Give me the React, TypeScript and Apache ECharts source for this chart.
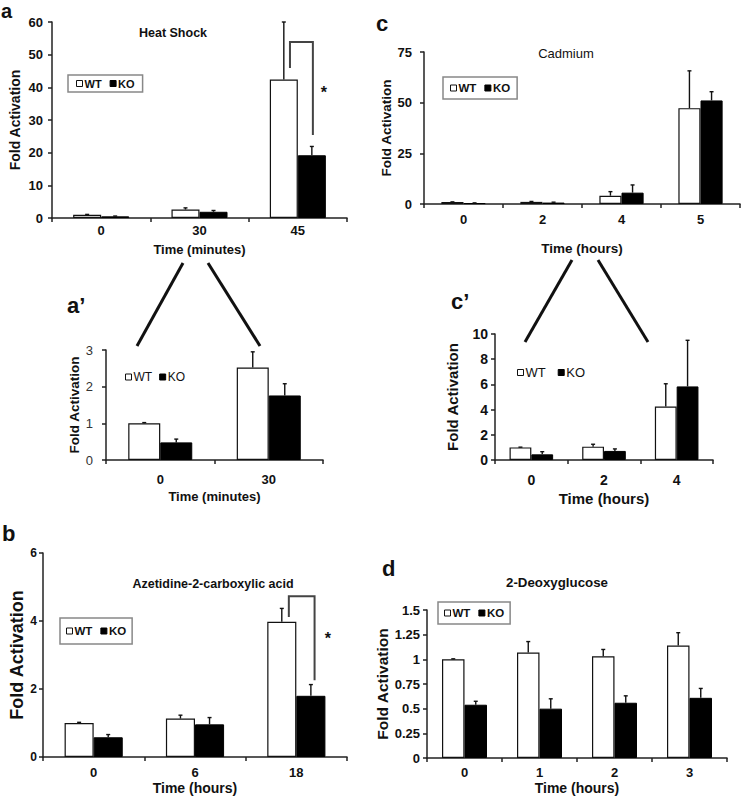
import React, { useEffect, useRef } from "react";
import * as echarts from "echarts";

const FONT = 'Arial, "Liberation Sans", Helvetica, sans-serif';

// Panel a: Heat Shock
const heatCats = ["0", "30", "45"];
const heatWT = [1.0, 2.6, 42.4];
const heatWTErr = [0.1, 0.5, 17.6];
const heatKO = [0.5, 1.9, 19.2];
const heatKOErr = [0.1, 0.4, 2.7];
const heatTicks = [0, 10, 20, 30, 40, 50, 60];

// Panel a': Heat Shock zoom
const heatZoomCats = ["0", "30"];
const heatZoomWT = [1.0, 2.52];
const heatZoomWTErr = [0.02, 0.43];
const heatZoomKO = [0.48, 1.76];
const heatZoomKOErr = [0.09, 0.32];
const heatZoomTicks = [0, 1, 2, 3];

// Panel c: Cadmium
const cdCats = ["0", "2", "4", "5"];
const cdWT = [1.0, 1.05, 4.1, 47.3];
const cdWTErr = [0.05, 0.2, 2.0, 18.4];
const cdKO = [0.45, 0.7, 5.6, 51.1];
const cdKOErr = [0.1, 0.2, 3.8, 4.3];
const cdTicks = [0, 25, 50, 75];

// Panel c': Cadmium zoom
const cdZoomCats = ["0", "2", "4"];
const cdZoomWT = [1.0, 1.06, 4.24];
const cdZoomWTErr = [0.02, 0.19, 1.81];
const cdZoomKO = [0.45, 0.72, 5.84];
const cdZoomKOErr = [0.21, 0.16, 3.66];
const cdZoomTicks = [0, 2, 4, 6, 8, 10];

// Panel b: Azetidine-2-carboxylic acid
const azcCats = ["0", "6", "18"];
const azcWT = [1.0, 1.13, 3.98];
const azcWTErr = [0.02, 0.1, 0.39];
const azcKO = [0.58, 0.96, 1.8];
const azcKOErr = [0.08, 0.2, 0.33];
const azcTicks = [0, 2, 4, 6];

// Panel d: 2-Deoxyglucose
const dgCats = ["0", "1", "2", "3"];
const dgWT = [1.0, 1.07, 1.03, 1.14];
const dgWTErr = [0.005, 0.11, 0.07, 0.13];
const dgKO = [0.54, 0.5, 0.56, 0.61];
const dgKOErr = [0.035, 0.1, 0.07, 0.095];
const dgTicks = [0, 0.25, 0.5, 0.75, 1, 1.25, 1.5];

// Significance brackets: [category, leftBottom, top, rightBottom, starY]
const heatBracket = [2, 45.9, 53.9, 25.4, 38.3];
const azcBracket = [2, 4.12, 4.73, 2.26, 3.5];

const panels = [
  {
    cats: heatCats, wt: heatWT, wtErr: heatWTErr, ko: heatKO, koErr: heatKOErr, ticks: heatTicks,
    grid: { left: 52, top: 22, width: 295, height: 196 }, bw: 0.285,
    xName: "Time (minutes)", xNameGap: 25, xLabelMargin: 6, xFont: 13, xNameFont: 13,
    yNameGap: 30, yNameFont: 14, yLabelMargin: 9, yFont: 13, yLabelWeight: "bold", yLabelColor: "#111",
    legend: { left: 68, top: 75, padding: [3, 8], border: true, font: 11, weight: "bold", gap: 8 },
  },
  {
    cats: cdCats, wt: cdWT, wtErr: cdWTErr, ko: cdKO, koErr: cdKOErr, ticks: cdTicks,
    grid: { left: 424, top: 52, width: 316, height: 152 }, bw: 0.28,
    xName: "Time (hours)", xNameGap: 37, xLabelMargin: 9, xFont: 13, xNameFont: 13.5,
    yNameGap: 23, yNameFont: 13.5, yLabelMargin: 12, yFont: 13, yLabelWeight: "bold", yLabelColor: "#111",
    legend: { left: 443, top: 77, padding: [5, 7], border: true, font: 11.5, weight: "bold", gap: 8 },
  },
  {
    cats: heatZoomCats, wt: heatZoomWT, wtErr: heatZoomWTErr, ko: heatZoomKO, koErr: heatZoomKOErr, ticks: heatZoomTicks,
    grid: { left: 106, top: 350, width: 217, height: 110 }, bw: 0.295,
    xName: "Time (minutes)", xNameGap: 30, xLabelMargin: 13, xFont: 13, xNameFont: 13,
    yNameGap: 21, yNameFont: 13.5, yLabelMargin: 13, yFont: 13, yLabelWeight: "normal", yLabelColor: "#333",
    legend: { left: 125, top: 371, padding: 0, border: false, font: 12, weight: "normal", gap: 7 },
  },
  {
    cats: cdZoomCats, wt: cdZoomWT, wtErr: cdZoomWTErr, ko: cdZoomKO, koErr: cdZoomKOErr, ticks: cdZoomTicks,
    grid: { left: 495, top: 334, width: 218, height: 126 }, bw: 0.3,
    xName: "Time (hours)", xNameGap: 31, xLabelMargin: 13, xFont: 14, xNameFont: 15,
    yNameGap: 35, yNameFont: 15, yLabelMargin: 7, yFont: 14, yLabelWeight: "bold", yLabelColor: "#111",
    legend: { left: 517, top: 366, padding: 0, border: false, font: 13, weight: "normal", gap: 12 },
  },
  {
    cats: azcCats, wt: azcWT, wtErr: azcWTErr, ko: azcKO, koErr: azcKOErr, ticks: azcTicks,
    grid: { left: 43, top: 553, width: 304, height: 204 }, bw: 0.287,
    xName: "Time (hours)", xNameGap: 24, xLabelMargin: 9, xFont: 13, xNameFont: 14,
    yNameGap: 12, yNameFont: 18, yLabelMargin: 6, yFont: 12, yLabelWeight: "bold", yLabelColor: "#111",
    legend: { left: 60, top: 618, padding: [7, 6], border: true, font: 11.5, weight: "bold", gap: 8 },
  },
  {
    cats: dgCats, wt: dgWT, wtErr: dgWTErr, ko: dgKO, koErr: dgKOErr, ticks: dgTicks,
    grid: { left: 427, top: 610, width: 300, height: 148 }, bw: 0.3,
    xName: "Time (hours)", xNameGap: 23, xLabelMargin: 8, xFont: 13, xNameFont: 14,
    yNameGap: 37, yNameFont: 15.5, yLabelMargin: 7, yFont: 13, yLabelWeight: "bold", yLabelColor: "#111",
    legend: { left: 438, top: 602, padding: [5, 6], border: true, font: 11.5, weight: "bold", gap: 8 },
  },
];

function errorSeries(idx: number, vals: number[], errs: number[], side: number, bw: number) {
  return {
    type: "custom",
    name: side < 0 ? "WT error" : "KO error",
    xAxisIndex: idx,
    yAxisIndex: idx,
    z: 5,
    silent: true,
    clip: false,
    data: vals.map((v, i) => [i, v, v + errs[i]]),
    encode: { x: 0, y: [1, 2] },
    renderItem: (params: any, api: any) => {
      const i = api.value(0);
      const band = api.size([1, 0])[0];
      const p0 = api.coord([i, api.value(1)]);
      const p1 = api.coord([i, api.value(2)]);
      const x = p0[0] + side * band * bw * 0.5;
      const st = { stroke: "#111", lineWidth: 1.4 };
      return {
        type: "group",
        children: [
          { type: "line", shape: { x1: x, y1: p0[1], x2: x, y2: p1[1] }, style: st },
          { type: "line", shape: { x1: x - 2, y1: p1[1], x2: x + 2, y2: p1[1] }, style: st },
        ],
      };
    },
  };
}

function bracketSeries(idx: number, b: number[], lo: number, ro: number, so: number) {
  return {
    type: "custom",
    name: "bracket",
    xAxisIndex: idx,
    yAxisIndex: idx,
    z: 6,
    silent: true,
    clip: false,
    data: [b],
    encode: { x: 0, y: [1, 2, 3, 4] },
    renderItem: (params: any, api: any) => {
      const cat = api.value(0);
      const band = api.size([1, 0])[0];
      const c = api.coord([cat, 0])[0];
      const yl = api.coord([cat, api.value(1)])[1];
      const yt = api.coord([cat, api.value(2)])[1];
      const yr = api.coord([cat, api.value(3)])[1];
      const ys = api.coord([cat, api.value(4)])[1];
      const xl = c + lo * band;
      const xr = c + ro * band;
      return {
        type: "group",
        children: [
          {
            type: "polyline",
            shape: { points: [[xl, yl], [xl, yt], [xr, yt], [xr, yr]] },
            style: { stroke: "#444", lineWidth: 2, fill: null },
          },
          {
            type: "text",
            x: c + so * band,
            y: ys,
            style: { text: "*", fontSize: 16, fontWeight: "bold", fontFamily: FONT, fill: "#111", align: "center", verticalAlign: "middle" },
          },
        ],
      };
    },
  };
}

function buildOption() {
  const grid: any[] = [];
  const xAxis: any[] = [];
  const yAxis: any[] = [];
  const series: any[] = [];
  const legend: any[] = [];
  const axisLine = { show: true, lineStyle: { color: "#222", width: 1.5 } };
  const axisTick = { show: true, length: 4, lineStyle: { color: "#222", width: 1.5 } };

  panels.forEach((p, i) => {
    grid.push({ ...p.grid, containLabel: false });
    xAxis.push({
      gridIndex: i,
      type: "category",
      data: p.cats,
      axisLine,
      axisTick: { ...axisTick, inside: false },
      axisLabel: { margin: p.xLabelMargin, fontSize: p.xFont, fontWeight: "bold", color: "#111", fontFamily: FONT },
      name: p.xName,
      nameLocation: "middle",
      nameGap: p.xNameGap,
      nameTextStyle: { fontSize: p.xNameFont, fontWeight: "bold", color: "#111", fontFamily: FONT },
    });
    const t = p.ticks;
    yAxis.push({
      gridIndex: i,
      type: "value",
      min: t[0],
      max: t[t.length - 1],
      interval: t[1] - t[0],
      splitLine: { show: false },
      axisLine,
      axisTick,
      axisLabel: { margin: p.yLabelMargin, fontSize: p.yFont, fontWeight: p.yLabelWeight, color: p.yLabelColor, fontFamily: FONT },
      name: "Fold Activation",
      nameLocation: "middle",
      nameRotate: 90,
      nameGap: p.yNameGap,
      nameTextStyle: { fontSize: p.yNameFont, fontWeight: "bold", color: "#111", fontFamily: FONT },
    });
    const bwPct = (p.bw * 100).toFixed(1) + "%";
    series.push({
      type: "bar",
      name: "WT",
      xAxisIndex: i,
      yAxisIndex: i,
      data: p.wt,
      barWidth: bwPct,
      barGap: "0%",
      itemStyle: { color: "#fff", borderColor: "#111", borderWidth: 1.2 },
      silent: true,
    });
    series.push({
      type: "bar",
      name: "KO",
      xAxisIndex: i,
      yAxisIndex: i,
      data: p.ko,
      barWidth: bwPct,
      barGap: "0%",
      itemStyle: { color: "#000", borderColor: "#000", borderWidth: 1 },
      silent: true,
    });
    series.push(errorSeries(i, p.wt, p.wtErr, -1, p.bw));
    series.push(errorSeries(i, p.ko, p.koErr, 1, p.bw));
    const L = p.legend;
    legend.push({
      left: L.left,
      top: L.top,
      orient: "horizontal",
      padding: L.padding,
      itemGap: L.gap,
      itemWidth: 6,
      itemHeight: 6,
      selectedMode: false,
      borderColor: L.border ? "#888" : "transparent",
      borderWidth: L.border ? 1.5 : 0,
      backgroundColor: L.border ? "#fff" : "transparent",
      textStyle: { fontSize: L.font, fontWeight: L.weight, color: "#111", fontFamily: FONT, padding: [0, 0, 0, -3] },
      data: [
        { name: "WT", icon: "rect", itemStyle: { color: "#fff", borderColor: "#111", borderWidth: 1 } },
        { name: "KO", icon: "rect", itemStyle: { color: "#000", borderColor: "#000", borderWidth: 1 } },
      ],
    });
  });

  series.push(bracketSeries(0, heatBracket, -0.08, 0.153, 0.265));
  series.push(bracketSeries(4, azcBracket, -0.074, 0.18, 0.31));

  const txt = (text: string, x: number, y: number, size: number, weight = "bold", align = "center", va = "middle") => ({
    type: "text",
    x,
    y,
    style: { text, fontSize: size, fontWeight: weight, fontFamily: FONT, fill: "#111", align, verticalAlign: va },
  });
  const zl = (x1: number, y1: number, x2: number, y2: number) => ({
    type: "line",
    shape: { x1, y1, x2, y2 },
    style: { stroke: "#111", lineWidth: 3 },
  });

  const graphic = [
    txt("a", 1, 1, 20, "bold", "left", "top"),
    txt("c", 376, 23, 22, "bold", "left"),
    txt("a\u2019", 67, 305, 22, "bold", "left"),
    txt("c\u2019", 451, 301, 22, "bold", "left"),
    txt("b", 2, 533, 22, "bold", "left"),
    txt("d", 382, 568, 22, "bold", "left"),
    txt("Heat Shock", 173, 33, 12.5),
    txt("Cadmium", 566, 53, 13, "normal"),
    txt("Azetidine-2-carboxylic acid", 213, 584, 12.5),
    txt("2-Deoxyglucose", 557, 582, 13.3),
    zl(137, 346, 183, 263),
    zl(208, 263, 260, 346),
    zl(525, 342, 572, 260),
    zl(598, 260, 648, 342),
  ];

  return {
    animation: false,
    backgroundColor: "#fff",
    grid,
    xAxis,
    yAxis,
    series,
    legend,
    graphic,
  };
}

export default function App() {
  const ref = useRef<HTMLDivElement>(null);
  useEffect(() => {
    if (!ref.current) return;
    const chart = echarts.init(ref.current, undefined, { renderer: "svg" });
    chart.setOption(buildOption() as any);
    return () => chart.dispose();
  }, []);
  return (
    <div
      ref={ref}
      style={{ position: "absolute", left: 0, top: 0, width: 747, height: 800, background: "#fff" }}
    />
  );
}
